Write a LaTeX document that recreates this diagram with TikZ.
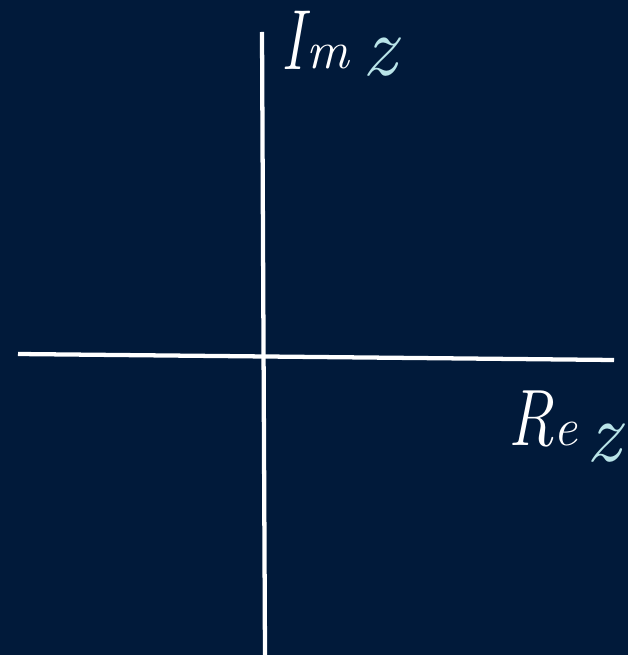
\documentclass[tikz,border=0pt]{standalone}
\usepackage{fontspec}
\definecolor{bgnavy}{RGB}{1,26,58}
\definecolor{zblue}{RGB}{185,228,232}
\tikzset{
  axis/.style={white, line width=3.2pt},
  capletter/.style={white, inner sep=0pt, anchor=base, font=\fontsize{64}{64}\selectfont\itshape},
  lowletter/.style={white, inner sep=0pt, anchor=base, font=\fontsize{40}{40}\selectfont\itshape},
  zlab/.style={zblue, inner sep=0pt, anchor=base, font=\fontsize{64}{64}\selectfont\itshape}
}
\begin{document}
\begin{tikzpicture}[x=0.75pt, y=-0.75pt]
\fill[bgnavy] (0,0) rectangle (628,655);
\useasboundingbox (0,0) rectangle (628,655);
\coordinate (vtop) at (262,32);
\coordinate (vbot) at (265,655);
\coordinate (hl) at (18,354);
\coordinate (hr) at (614,360);
\draw[axis] (vtop) -- (vbot);
\draw[axis] (hl) -- (hr);
\node[capletter, xscale=0.7] (imI) at (293,70) {I};
\node[lowletter] (imm) at (328,69) {m};
\node[zlab] (imz) at (380,76) {z};
\node[capletter, font=\fontsize{60}{60}\selectfont\itshape, xscale=0.8] (reR) at (531,445) {R};
\node[lowletter] (ree) at (565,445) {e};
\node[zlab] (rez) at (604,461) {z};
\end{tikzpicture}
\end{document}
